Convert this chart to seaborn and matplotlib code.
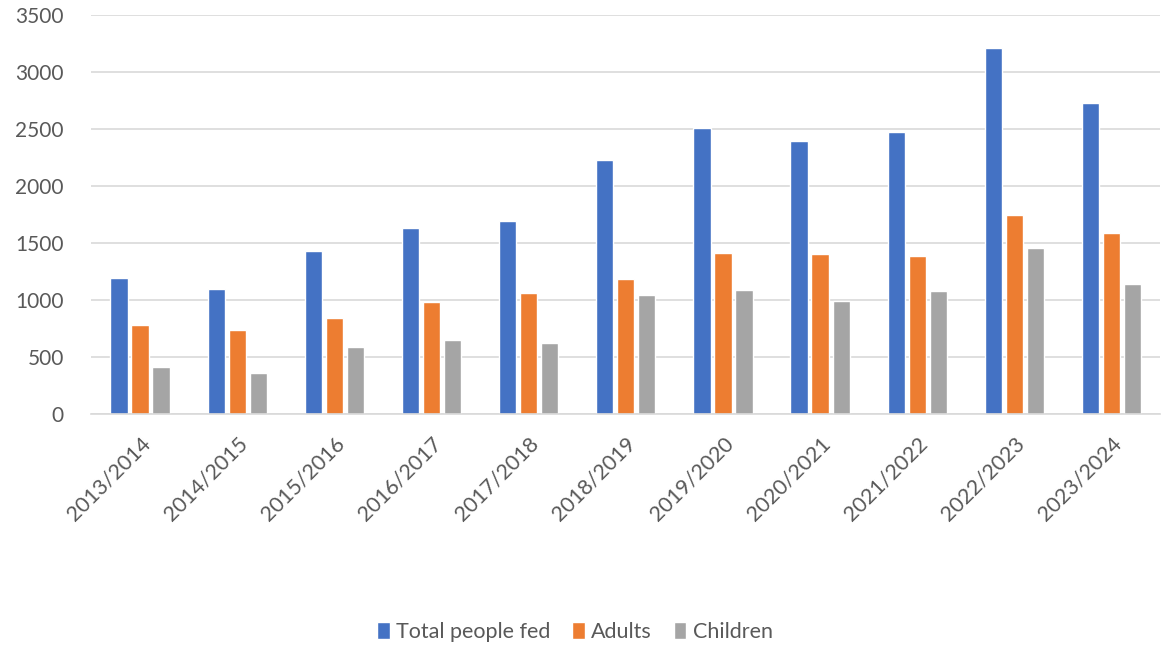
import numpy as np
import matplotlib
matplotlib.use("Agg")
import matplotlib.pyplot as plt
import seaborn as sns
import pandas as pd

years = ["2013/2014", "2014/2015", "2015/2016", "2016/2017", "2017/2018", "2018/2019",
         "2019/2020", "2020/2021", "2021/2022", "2022/2023", "2023/2024"]
total_fed = [1195, 1100, 1428, 1635, 1693, 2228, 2508, 2392, 2471, 3207, 2728]
adults = [778, 737, 839, 980, 1058, 1187, 1409, 1401, 1389, 1746, 1585]
children = [412, 360, 588, 652, 626, 1041, 1091, 991, 1079, 1456, 1140]
series_names = ["Total people fed", "Adults", "Children"]
colors = ["#4472C4", "#ED7D31", "#A5A5A5"]

df = pd.DataFrame({
    "year": years * 3,
    "value": total_fed + adults + children,
    "series": np.repeat(series_names, len(years)),
})

sns.set_theme(style="white")
plt.rcParams['font.family'] = ['Lato', 'DejaVu Sans']

fig = plt.figure(figsize=(11.73, 6.46), dpi=100)
ax = fig.add_axes([0.078, 0.359, 0.911, 0.618])

sns.barplot(data=df, x="year", y="value", hue="series", palette=colors,
            width=0.65, gap=0.18, ax=ax, legend=True, saturation=1)

ax.set_ylim(0, 3500)
ax.set_yticks(np.arange(0, 3501, 500))
ax.set_xlim(-0.5, len(years) - 0.5)
ax.yaxis.grid(True, color="#D9D9D9", linewidth=1.2)
ax.set_axisbelow(True)
for s in ["top", "right", "left"]:
    ax.spines[s].set_visible(False)
ax.spines["bottom"].set_color("#D9D9D9")
ax.spines["bottom"].set_linewidth(1.2)
ax.set_xlabel("")
ax.set_ylabel("")
ax.tick_params(axis="y", length=0, labelsize=15, colors="#595959", pad=20)
ax.tick_params(axis="x", length=0, labelsize=15.5, colors="#595959", pad=14)
plt.setp(ax.get_xticklabels(), rotation=45, ha="right", rotation_mode="anchor")

handles, labels = ax.get_legend_handles_labels()
ax.legend_.remove()
fig.legend(handles, labels, loc="center", bbox_to_anchor=(0.49, 0.022), ncol=3,
           frameon=False, fontsize=15.5, handlelength=0.6, handleheight=0.9,
           handletextpad=0.3, columnspacing=1.0, labelcolor="#595959")

fig.savefig("out.png", dpi=100)
